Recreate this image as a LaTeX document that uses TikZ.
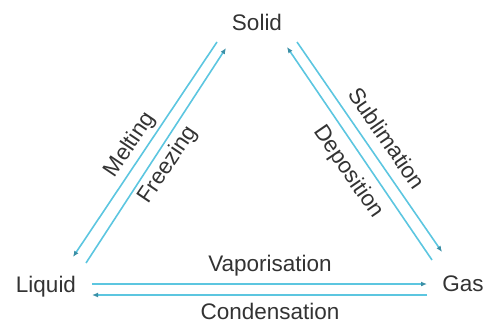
\documentclass[tikz,border=0pt]{standalone}
\usepackage{fontspec}
\setmainfont{Liberation Sans}
\usetikzlibrary{arrows.meta}
\definecolor{ink}{HTML}{333333}
\definecolor{flowcyan}{HTML}{5CC6E0}
\definecolor{tipblue}{HTML}{3A8FA6}

\begin{document}
\begin{tikzpicture}[x=1pt,y=-1pt,every node/.style={font=\fontsize{22.5}{24}\selectfont,text=ink,inner sep=0pt},
  flow/.style={flowcyan,line width=1.6pt,-{Latex[length=6pt,width=5pt,color=tipblue]}}]
\useasboundingbox (0,0) rectangle (486,323);
% phases
\node (solid) at (257,22) {Solid};
\node (liquid) at (46,287) {Liquid};
\node (gas) at (463,284) {Gas};
% ends of the paired arrows
\coordinate (meltS) at (217,42);
\coordinate (meltL) at (73,257);
\coordinate (frzL) at (86,263);
\coordinate (frzS) at (226,48);
\coordinate (subS) at (297,42);
\coordinate (subG) at (442,252);
\coordinate (depG) at (432,260);
\coordinate (depS) at (287,47);
\coordinate (vapL) at (92,284);
\coordinate (vapG) at (427,284);
\coordinate (conG) at (427,295);
\coordinate (conL) at (92,295);
\draw[flow] (meltS)--(meltL);
\draw[flow] (frzL)--(frzS);
\draw[flow] (subS)--(subG);
\draw[flow] (depG)--(depS);
\draw[flow] (vapL)--(vapG);
\draw[flow] (conG)--(conL);
% labels
\node[rotate=56] (melting) at (130,145) {Melting};
\node[rotate=56] (freezing) at (168,165) {Freezing};
\node[rotate=-55.5] (sublimation) at (387,138) {Sublimation};
\node[rotate=-55.5] (deposition) at (348,172) {Deposition};
\node (vaporisation) at (270,266) {Vaporisation};
\node (condensation) at (270,311) {Condensation};
\end{tikzpicture}
\end{document}
